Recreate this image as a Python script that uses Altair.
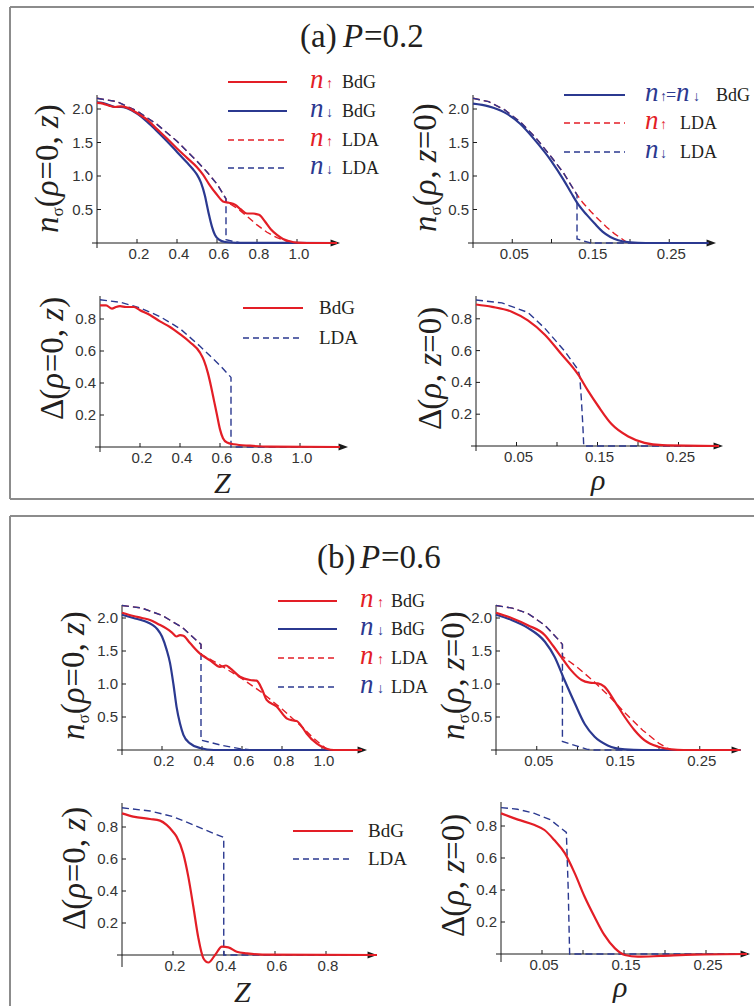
import altair as alt
import pandas as pd

# ------------------------------------------------------------------
# Values
# (a) P = 0.2 -------------------------------------------------------
A1_UP_BDG_X = [0, 0.03, 0.06, 0.09, 0.12, 0.15, 0.2, 0.25, 0.3, 0.35, 0.4, 0.45, 0.5, 0.53, 0.56, 0.6, 0.63, 0.66, 0.69, 0.72, 0.75, 0.78, 0.81, 0.84, 0.87, 0.9, 0.93, 0.96, 1.0, 1.05, 1.2]
A1_UP_BDG_Y = [2.09, 2.08, 2.05, 2.03, 2.04, 2.02, 1.94, 1.84, 1.7, 1.56, 1.41, 1.27, 1.13, 1.02, 0.88, 0.72, 0.62, 0.6, 0.57, 0.5, 0.44, 0.44, 0.42, 0.32, 0.2, 0.12, 0.06, 0.03, 0.005, 0, 0]
A1_DN_BDG_X = [0, 0.03, 0.06, 0.09, 0.12, 0.15, 0.2, 0.25, 0.3, 0.35, 0.4, 0.45, 0.48, 0.5, 0.52, 0.54, 0.55, 0.56, 0.575, 0.59, 0.61, 0.64, 0.7, 1.2]
A1_DN_BDG_Y = [2.1, 2.09, 2.06, 2.03, 2.03, 2.01, 1.93, 1.81, 1.67, 1.52, 1.36, 1.2, 1.1, 1.02, 0.9, 0.7, 0.56, 0.42, 0.24, 0.12, 0.05, 0.015, 0.003, 0]
A1_UP_LDA_X = [0, 0.1, 0.2, 0.3, 0.4, 0.5, 0.55, 0.6, 0.645, 0.645, 0.7, 0.75, 0.8, 0.85, 0.9, 0.95, 0.98, 1.2]
A1_UP_LDA_Y = [2.16, 2.11, 1.97, 1.77, 1.52, 1.22, 1.06, 0.88, 0.66, 0.62, 0.52, 0.4, 0.27, 0.16, 0.08, 0.025, 0, 0]
A1_DN_LDA_X = [0, 0.1, 0.2, 0.3, 0.4, 0.5, 0.55, 0.6, 0.645, 0.645, 0.68, 0.72, 1.2]
A1_DN_LDA_Y = [2.16, 2.11, 1.97, 1.77, 1.52, 1.22, 1.06, 0.88, 0.66, 0.05, 0.025, 0, 0]

A2_BDG_X = [0, 0.02, 0.04, 0.06, 0.08, 0.1, 0.115, 0.125, 0.135, 0.145, 0.155, 0.165, 0.175, 0.185, 0.2, 0.22, 0.3]
A2_BDG_Y = [2.08, 2.04, 1.95, 1.78, 1.52, 1.22, 0.95, 0.75, 0.56, 0.42, 0.29, 0.17, 0.09, 0.04, 0.01, 0, 0]
A2_UP_LDA_X = [0, 0.02, 0.04, 0.06, 0.08, 0.1, 0.115, 0.1325, 0.14, 0.15, 0.16, 0.17, 0.18, 0.19, 0.197, 0.3]
A2_UP_LDA_Y = [2.16, 2.11, 1.99, 1.81, 1.57, 1.28, 1.05, 0.72, 0.6, 0.47, 0.35, 0.24, 0.14, 0.06, 0, 0]
A2_DN_LDA_X = [0, 0.02, 0.04, 0.06, 0.08, 0.1, 0.115, 0.1325, 0.1325, 0.15, 0.3]
A2_DN_LDA_Y = [2.16, 2.11, 1.99, 1.81, 1.57, 1.28, 1.05, 0.72, 0.06, 0, 0]

A3_BDG_X = [0, 0.03, 0.06, 0.08, 0.1, 0.13, 0.17, 0.2, 0.25, 0.3, 0.35, 0.4, 0.45, 0.5, 0.52, 0.54, 0.555, 0.57, 0.585, 0.6, 0.615, 0.635, 0.67, 0.75, 0.85, 1.2]
A3_BDG_Y = [0.885, 0.885, 0.865, 0.875, 0.88, 0.875, 0.875, 0.855, 0.825, 0.785, 0.75, 0.705, 0.655, 0.59, 0.54, 0.46, 0.38, 0.29, 0.2, 0.11, 0.055, 0.028, 0.017, 0.008, 0.002, 0]
A3_LDA_X = [0, 0.1, 0.2, 0.3, 0.4, 0.5, 0.55, 0.6, 0.655, 0.655, 1.2]
A3_LDA_Y = [0.92, 0.905, 0.87, 0.815, 0.74, 0.63, 0.57, 0.51, 0.435, 0, 0]

A4_BDG_X = [0, 0.02, 0.044, 0.064, 0.085, 0.105, 0.126, 0.138, 0.151, 0.167, 0.188, 0.208, 0.23, 0.3]
A4_BDG_Y = [0.89, 0.875, 0.845, 0.79, 0.7, 0.58, 0.45, 0.35, 0.25, 0.14, 0.06, 0.02, 0.005, 0]
A4_LDA_X = [0, 0.032, 0.064, 0.085, 0.109, 0.126, 0.128, 0.13, 0.132, 0.133, 0.3]
A4_LDA_Y = [0.918, 0.9, 0.84, 0.74, 0.6, 0.48, 0.44, 0.3, 0.12, 0, 0]

# (b) P = 0.6 -------------------------------------------------------
B1_UP_BDG_X = [0, 0.057, 0.1, 0.14, 0.18, 0.223, 0.25, 0.273, 0.29, 0.307, 0.34, 0.39, 0.44, 0.49, 0.52, 0.54, 0.59, 0.64, 0.673, 0.7, 0.723, 0.773, 0.823, 0.85, 0.873, 0.9, 0.923, 0.973, 1.0, 1.023, 1.06, 1.2]
B1_UP_BDG_Y = [2.08, 2.03, 2.0, 1.97, 1.91, 1.84, 1.78, 1.72, 1.74, 1.73, 1.62, 1.46, 1.36, 1.26, 1.28, 1.24, 1.11, 1.06, 1.05, 0.92, 0.76, 0.66, 0.48, 0.45, 0.44, 0.35, 0.25, 0.1, 0.05, 0.02, 0, 0]
B1_DN_BDG_X = [0, 0.057, 0.115, 0.15, 0.177, 0.2, 0.223, 0.24, 0.257, 0.273, 0.29, 0.307, 0.34, 0.39, 0.46, 1.2]
B1_DN_BDG_Y = [2.05, 2.0, 1.95, 1.9, 1.83, 1.72, 1.52, 1.32, 1.0, 0.65, 0.4, 0.23, 0.1, 0.03, 0, 0]
B1_UP_LDA_X = [0, 0.1, 0.2, 0.3, 0.395, 0.395, 0.45, 0.5, 0.6, 0.7, 0.8, 0.9, 0.95, 1.0, 1.03, 1.2]
B1_UP_LDA_Y = [2.19, 2.15, 2.04, 1.86, 1.6, 1.45, 1.36, 1.27, 1.08, 0.87, 0.62, 0.35, 0.2, 0.07, 0, 0]
B1_DN_LDA_X = [0, 0.1, 0.2, 0.3, 0.395, 0.395, 0.5, 0.6, 0.65, 1.2]
B1_DN_LDA_Y = [2.19, 2.15, 2.04, 1.86, 1.6, 0.15, 0.07, 0.015, 0, 0]

B2_UP_BDG_X = [0, 0.019, 0.039, 0.06, 0.07, 0.08, 0.092, 0.105, 0.115, 0.125, 0.133, 0.146, 0.158, 0.17, 0.182, 0.199, 0.215, 0.23, 0.3]
B2_UP_BDG_Y = [2.08, 2.0, 1.89, 1.74, 1.58, 1.41, 1.21, 1.06, 1.02, 1.01, 0.96, 0.73, 0.5, 0.3, 0.15, 0.05, 0.01, 0, 0]
B2_DN_BDG_X = [0, 0.019, 0.039, 0.06, 0.072, 0.084, 0.097, 0.109, 0.121, 0.137, 0.158, 0.18, 0.3]
B2_DN_BDG_Y = [2.05, 1.97, 1.85, 1.64, 1.41, 1.06, 0.7, 0.39, 0.2, 0.07, 0.01, 0, 0]
B2_UP_LDA_X = [0, 0.02, 0.039, 0.06, 0.076, 0.0815, 0.0815, 0.1, 0.12, 0.14, 0.16, 0.18, 0.2, 0.21, 0.215, 0.3]
B2_UP_LDA_Y = [2.19, 2.15, 2.07, 1.89, 1.68, 1.6, 1.42, 1.25, 1.04, 0.8, 0.54, 0.3, 0.1, 0.03, 0, 0]
B2_DN_LDA_X = [0, 0.02, 0.039, 0.06, 0.076, 0.0815, 0.0815, 0.112, 0.12, 0.3]
B2_DN_LDA_Y = [2.19, 2.15, 2.07, 1.89, 1.68, 1.6, 0.13, 0.01, 0, 0]

B3_BDG_X = [0, 0.044, 0.11, 0.149, 0.175, 0.2, 0.214, 0.24, 0.26, 0.28, 0.299, 0.319, 0.339, 0.365, 0.392, 0.417, 0.45, 0.49, 0.55, 1.0]
B3_BDG_Y = [0.885, 0.865, 0.85, 0.84, 0.813, 0.77, 0.74, 0.635, 0.49, 0.3, 0.11, -0.02, -0.047, 0.0, 0.052, 0.048, 0.02, 0.01, 0.002, 0]
B3_LDA_X = [0, 0.11, 0.2, 0.28, 0.36, 0.399, 0.399, 1.0]
B3_LDA_Y = [0.92, 0.9, 0.865, 0.813, 0.76, 0.735, 0, 0]

B4_BDG_X = [0, 0.0207, 0.041, 0.053, 0.065, 0.078, 0.09, 0.102, 0.114, 0.126, 0.139, 0.151, 0.167, 0.195, 0.236, 0.3]
B4_BDG_Y = [0.879, 0.84, 0.806, 0.775, 0.712, 0.629, 0.504, 0.358, 0.233, 0.119, 0.035, -0.006, -0.017, -0.012, -0.004, 0]
B4_LDA_X = [0, 0.02, 0.04, 0.06, 0.0797, 0.082, 0.0837, 0.3]
B4_LDA_Y = [0.915, 0.905, 0.88, 0.84, 0.76, 0.4, 0, 0]

# tick values / labels
Z_TICKS = [0.2, 0.4, 0.6, 0.8, 1.0]
Z_LABELS = ["0.2", "0.4", "0.6", "0.8", "1.0"]
Z_TICKS_B = [0.2, 0.4, 0.6, 0.8]
Z_LABELS_B = ["0.2", "0.4", "0.6", "0.8"]
R_TICKS = [0.05, 0.1, 0.15, 0.2, 0.25]
R_LABELS = ["0.05", "", "0.15", "", "0.25"]
N_TICKS = [0.5, 1.0, 1.5, 2.0]
N_LABELS = ["0.5", "1.0", "1.5", "2.0"]
D_TICKS = [0.2, 0.4, 0.6, 0.8]
D_LABELS = ["0.2", "0.4", "0.6", "0.8"]

# ------------------------------------------------------------------
# Styling / layout
SERIF = "Liberation Serif"
SANS = "Liberation Sans"
RED = "#E31E26"
BLUE = "#2B3990"
INK = "#231F20"
AXC = "#1a1a1a"
LABC = "#333333"
BORDER = "#8c8c8c"

COL_LEFT = [90, 468]
ROW_TOP = [94, 294, 498, 801]
COL_W = [295, 285]
ROW_H = [156, 160, 259, 169]
COL_GAP = COL_LEFT[1] - COL_LEFT[0] - COL_W[0]
ROW_GAP = 44

GEOM = {
    "a1": dict(r=0, c=0, ox=97, oy=243, kx=200, ky=67, xs=92, tip=340, yb=248, yt=95),
    "a2": dict(r=0, c=1, ox=473, oy=243, kx=785, ky=67, xs=468, tip=716, yb=248, yt=95),
    "a3": dict(r=1, c=0, ox=100, oy=447, kx=200, ky=160, xs=95, tip=348, yb=452, yt=296),
    "a4": dict(r=1, c=1, ox=476, oy=446, kx=810, ky=159, xs=471, tip=723, yb=451, yt=296),
    "b1": dict(r=2, c=0, ox=122, oy=750, kx=200, ky=66, xs=117, tip=367, yb=755, yt=605),
    "b2": dict(r=2, c=1, ox=496, oy=750, kx=815, ky=66, xs=491, tip=741, yb=755, yt=605),
    "b3": dict(r=3, c=0, ox=122, oy=955, kx=255, ky=160, xs=117, tip=377, yb=967, yt=803),
    "b4": dict(r=3, c=1, ox=501, oy=954, kx=820, ky=160, xs=496, tip=750, yb=962, yt=802),
}

ARROW = "M-1,-0.75L1,0L-1,0.75Z"


def make_panel(key, curves, xt, xl, yt, yl, extra=()):
    g = GEOM[key]
    L, T = COL_LEFT[g["c"]], ROW_TOP[g["r"]]
    w, h = COL_W[g["c"]], ROW_H[g["r"]]
    kx, ky, ox, oy = g["kx"], g["ky"], g["ox"], g["oy"]
    xsc = alt.Scale(domain=[(L - ox) / kx, (L + w - ox) / kx], nice=False, zero=False)
    ysc = alt.Scale(domain=[(oy - T - h) / ky, (oy - T) / ky], nice=False, zero=False)

    def X(f):
        return alt.X(f, type="quantitative", scale=xsc, axis=None)

    def Y(f):
        return alt.Y(f, type="quantitative", scale=ysc, axis=None)

    layers = list(extra)
    # axes
    x0 = (g["xs"] - ox) / kx
    x1 = (g["tip"] - 3 - ox) / kx
    y0 = (oy - g["yb"]) / ky
    y1 = (oy - g["yt"]) / ky
    rows = [dict(x=x0, x2=x1, y=0, y2=0), dict(x=0, x2=0, y=y0, y2=y1)]
    rows += [dict(x=v, x2=v, y=0, y2=4.0 / ky) for v in xt]
    rows += [dict(x=0, x2=4.0 / kx, y=v, y2=v) for v in yt]
    layers.append(
        alt.Chart(pd.DataFrame(rows)).mark_rule(color=AXC, strokeWidth=1).encode(
            x=X("x"), x2=alt.X2("x2"), y=Y("y"), y2=alt.Y2("y2"))
    )
    layers.append(
        alt.Chart(pd.DataFrame({"x": [(g["tip"] - ox) / kx], "y": [0]})).mark_point(
            shape=ARROW, filled=True, size=90, color=AXC, opacity=1, strokeWidth=0, xOffset=-4.7
        ).encode(x=X("x"), y=Y("y"))
    )
    layers.append(
        alt.Chart(pd.DataFrame({"x": xt, "t": xl, "y": [0] * len(xt)})).mark_text(
            font=SANS, fontSize=15, color=LABC, baseline="top", dy=4, dx=2
        ).encode(x=X("x"), y=Y("y"), text="t:N")
    )
    layers.append(
        alt.Chart(pd.DataFrame({"y": yt, "t": yl, "x": [0] * len(yt)})).mark_text(
            font=SANS, fontSize=15, color=LABC, align="right", baseline="middle", dx=-4
        ).encode(x=X("x"), y=Y("y"), text="t:N")
    )
    # curves: dashed LDA lines are piecewise (with jumps), BdG lines are smooth
    for xs, ys, color, dashed in curves:
        assert len(xs) == len(ys)
        df = pd.DataFrame({"x": xs, "y": ys, "i": list(range(len(xs)))})
        if dashed:
            mk = dict(color=color, strokeWidth=1.4, strokeDash=[7, 4])
        else:
            mk = dict(color=color, strokeWidth=2.2, interpolate="monotone")
        layers.append(alt.Chart(df).mark_line(**mk).encode(x=X("x"), y=Y("y"), order="i:Q"))
    return alt.layer(*layers).properties(width=w, height=h)


# ------------------------------------------------------------------
# Decorations (titles, legends, axis titles, frames), all in page pixels,
# attached to the first panel and shifted to its origin.
EM = {("(", False): 0.333, (")", False): 0.333, ("=", False): 0.564, ("0", False): 0.5,
      (",", False): 0.25, (" ", False): 0.25, ("σ", False): 0.55, ("Δ", False): 0.612,
      ("n", True): 0.5, ("ρ", True): 0.5, ("z", True): 0.389}


def tw(text, it, size):
    return sum(EM.get((ch, it), 0.5) for ch in text) * size


texts = []


def put(t, x, y, size, color=INK, it=False, angle=0):
    texts.append(dict(x=x - COL_LEFT[0], y=y - ROW_TOP[0], t=t, s=size, c=color, a=angle, it=it))


def ytitle(kind, bx, by):
    if kind[0] == "n":
        pieces = [("n", True, 33, 0), ("σ", False, 17, 5)]
    else:
        pieces = [("Δ", False, 33, 0)]
    if kind[1] == "z":
        pieces += [("(", False, 33, 0), ("ρ", True, 33, 0), ("=0, ", False, 33, 0), ("z", True, 33, 0), (")", False, 33, 0)]
    else:
        pieces += [("(", False, 33, 0), ("ρ", True, 33, 0), (", ", False, 33, 0), ("z", True, 33, 0), ("=0)", False, 33, 0)]
    pos = 0
    for t, it, s, sh in pieces:
        put(t, bx + sh, by - pos, s, INK, it, 270)
        pos += tw(t, it, s)


# panel titles
put("(a)", 300, 47, 33)
put("P", 343, 47, 33, it=True)
put("=0.2", 364, 47, 33)
put("(b)", 317, 568, 33)
put("P", 360, 568, 33, it=True)
put("=0.6", 381, 568, 33)

# y axis titles
ytitle("nz", 58, 233)
ytitle("nr", 436, 232)
ytitle("dz", 63, 420)
ytitle("dr", 441, 430)
ytitle("nz", 84, 740)
ytitle("nr", 464, 740)
ytitle("dz", 85, 930)
ytitle("dr", 464, 937)

# x axis titles
put("Z", 214, 493, 30, it=True)
put("ρ", 591, 490, 30, it=True)
put("Z", 234, 1002, 30, it=True)
put("ρ", 613, 997, 30, it=True)

solid_rules = []
dash_rules = []


def rule(lst, x, x2, y, y2, color, width):
    lst.append(dict(x=x - COL_LEFT[0], x2=x2 - COL_LEFT[0], y=y - ROW_TOP[0], y2=y2 - ROW_TOP[0], c=color, w=width))


# frames
rule(solid_rules, 10, 10, 7, 499, BORDER, 2)
rule(solid_rules, 10, 754, 7, 7, BORDER, 2)
rule(solid_rules, 10, 754, 499, 499, BORDER, 2)
rule(solid_rules, 10, 754, 516, 516, BORDER, 2)
rule(solid_rules, 10, 10, 516, 1006, BORDER, 2)

# four-entry legends
for (lx0, lx1, nx, ax, tx, ys) in [(228, 287, 310, 326, 342, [82, 111, 140, 168]),
                                   (278, 337, 360, 377, 391, [601, 629, 658, 687])]:
    entries = [(RED, "↑", "BdG", False), (BLUE, "↓", "BdG", False),
               (RED, "↑", "LDA", True), (BLUE, "↓", "LDA", True)]
    for yy, (col, arr, lab, dashed) in zip(ys, entries):
        rule(dash_rules if dashed else solid_rules, lx0, lx1, yy, yy, col, 1.5 if dashed else 2)
        put("n", nx, yy + 6, 27, col, it=True)
        put(arr, ax, yy + 6, 14, col)
        put(lab, tx, yy + 6, 18, INK)

# legend of (a) rho panel
rule(solid_rules, 564, 625, 95, 95, BLUE, 2)
put("n", 645, 101, 27, BLUE, it=True)
put("↑", 660, 101, 14, BLUE)
put("=", 666, 101, 18, BLUE)
put("n", 676, 101, 27, BLUE, it=True)
put("↓", 693, 101, 14, BLUE)
put("BdG", 716, 101, 18, INK)
rule(dash_rules, 564, 625, 123, 123, RED, 1.5)
put("n", 645, 129, 27, RED, it=True)
put("↑", 660, 129, 14, RED)
put("LDA", 680, 129, 18, INK)
rule(dash_rules, 564, 625, 152, 152, BLUE, 1.5)
put("n", 645, 158, 27, BLUE, it=True)
put("↓", 660, 158, 14, BLUE)
put("LDA", 680, 158, 18, INK)

# gap legends
for (lx0, lx1, tx, y1, y2) in [(243, 303, 319, 308, 338), (293, 353, 368, 831, 859)]:
    rule(solid_rules, lx0, lx1, y1, y1, RED, 2)
    rule(dash_rules, lx0, lx1, y2, y2, BLUE, 1.5)
    put("BdG", tx, y1 + 6, 19, INK)
    put("LDA", tx, y2 + 6, 19, INK)

PX = lambda f: alt.X(f, type="quantitative", scale=None)
PY = lambda f: alt.Y(f, type="quantitative", scale=None)

tdf = pd.DataFrame(texts)
deco = []
for it in (False, True):
    sub = tdf[tdf["it"] == it].drop(columns=["it"]).reset_index(drop=True)
    deco.append(
        alt.Chart(sub).mark_text(font=SERIF, fontStyle="italic" if it else "normal",
                                 align="left", baseline="alphabetic").encode(
            x=PX("x"), y=PY("y"), text="t:N",
            size=alt.Size("s:Q", scale=None), color=alt.Color("c:N", scale=None),
            angle=alt.Angle("a:Q", scale=None))
    )
deco.append(
    alt.Chart(pd.DataFrame(solid_rules)).mark_rule().encode(
        x=PX("x"), x2=alt.X2("x2"), y=PY("y"), y2=alt.Y2("y2"),
        color=alt.Color("c:N", scale=None), strokeWidth=alt.StrokeWidth("w:Q", scale=None))
)
deco.append(
    alt.Chart(pd.DataFrame(dash_rules)).mark_rule(strokeDash=[6, 4]).encode(
        x=PX("x"), x2=alt.X2("x2"), y=PY("y"), y2=alt.Y2("y2"),
        color=alt.Color("c:N", scale=None), strokeWidth=alt.StrokeWidth("w:Q", scale=None))
)

# ------------------------------------------------------------------
a1 = make_panel("a1", [(A1_UP_LDA_X, A1_UP_LDA_Y, RED, True), (A1_DN_LDA_X, A1_DN_LDA_Y, BLUE, True),
                       (A1_DN_BDG_X, A1_DN_BDG_Y, BLUE, False), (A1_UP_BDG_X, A1_UP_BDG_Y, RED, False)],
                Z_TICKS, Z_LABELS, N_TICKS, N_LABELS, extra=deco)
a2 = make_panel("a2", [(A2_UP_LDA_X, A2_UP_LDA_Y, RED, True), (A2_DN_LDA_X, A2_DN_LDA_Y, BLUE, True),
                       (A2_BDG_X, A2_BDG_Y, BLUE, False)],
                R_TICKS, R_LABELS, N_TICKS, N_LABELS)
a3 = make_panel("a3", [(A3_LDA_X, A3_LDA_Y, BLUE, True), (A3_BDG_X, A3_BDG_Y, RED, False)],
                Z_TICKS, Z_LABELS, D_TICKS, D_LABELS)
a4 = make_panel("a4", [(A4_LDA_X, A4_LDA_Y, BLUE, True), (A4_BDG_X, A4_BDG_Y, RED, False)],
                R_TICKS, R_LABELS, D_TICKS, D_LABELS)
b1 = make_panel("b1", [(B1_UP_LDA_X, B1_UP_LDA_Y, RED, True), (B1_DN_LDA_X, B1_DN_LDA_Y, BLUE, True),
                       (B1_DN_BDG_X, B1_DN_BDG_Y, BLUE, False), (B1_UP_BDG_X, B1_UP_BDG_Y, RED, False)],
                Z_TICKS, Z_LABELS, N_TICKS, N_LABELS)
b2 = make_panel("b2", [(B2_UP_LDA_X, B2_UP_LDA_Y, RED, True), (B2_DN_LDA_X, B2_DN_LDA_Y, BLUE, True),
                       (B2_DN_BDG_X, B2_DN_BDG_Y, BLUE, False), (B2_UP_BDG_X, B2_UP_BDG_Y, RED, False)],
                R_TICKS, R_LABELS, N_TICKS, N_LABELS)
b3 = make_panel("b3", [(B3_LDA_X, B3_LDA_Y, BLUE, True), (B3_BDG_X, B3_BDG_Y, RED, False)],
                Z_TICKS_B, Z_LABELS_B, D_TICKS, D_LABELS)
b4 = make_panel("b4", [(B4_LDA_X, B4_LDA_Y, BLUE, True), (B4_BDG_X, B4_BDG_Y, RED, False)],
                R_TICKS, R_LABELS, D_TICKS, D_LABELS)

chart = alt.concat(
    a1, a2, a3, a4, b1, b2, b3, b4,
    columns=2,
    spacing={"row": ROW_GAP, "column": COL_GAP},
    bounds="flush",
    align="each",
).properties(
    padding={"left": 9, "top": 6, "right": 0, "bottom": 0},
    background="white",
).configure_view(stroke=None)

chart.save("out.html", embed_options={"renderer": "svg", "actions": False})
